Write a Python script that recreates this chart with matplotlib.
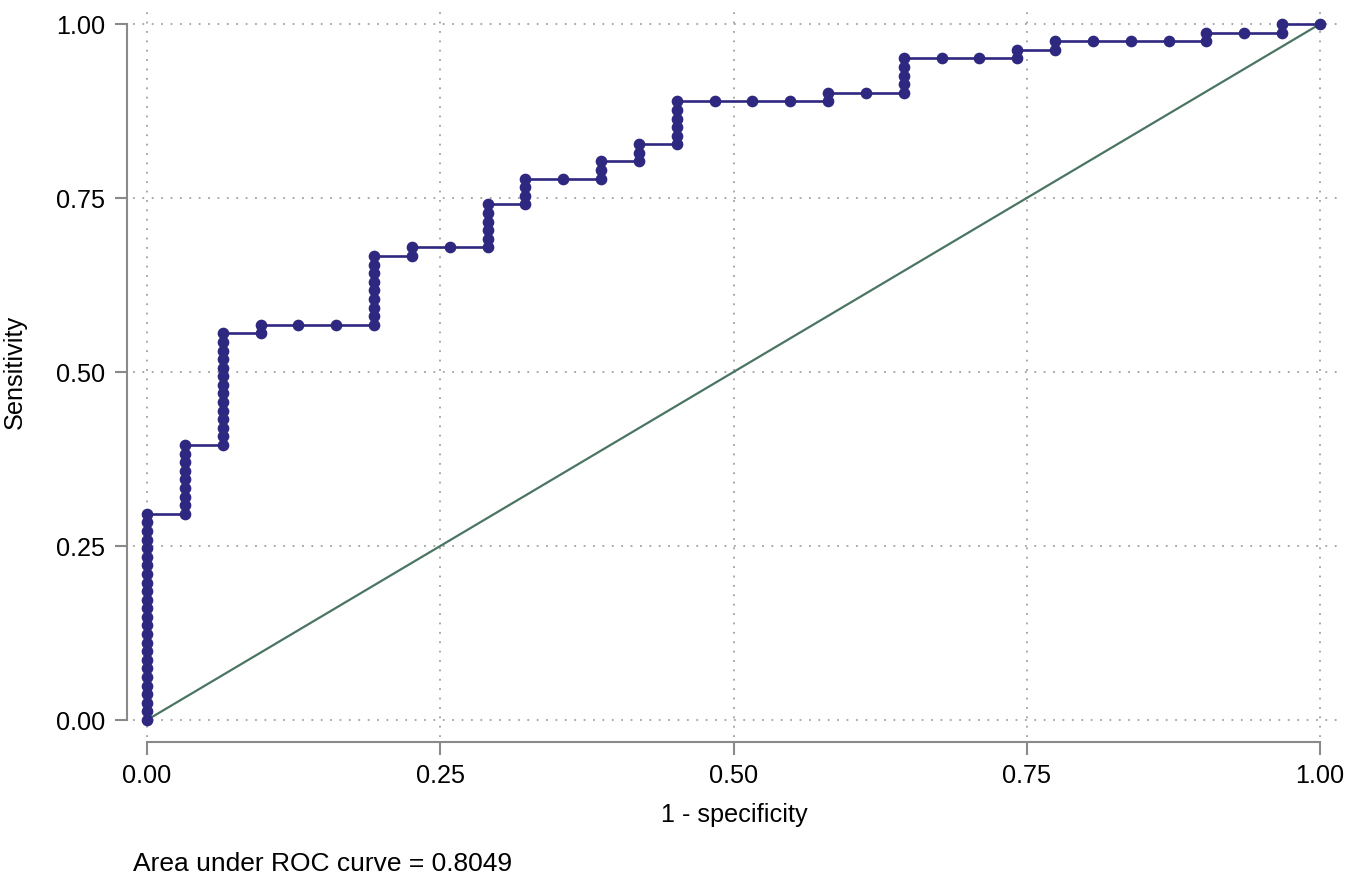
# ROC curve, Stata roctab style
import matplotlib
matplotlib.use("Agg")
import matplotlib.pyplot as plt

plt.rcParams['font.family'] = ['Liberation Sans', 'DejaVu Sans']

# counts of false positives (of 31 negatives) and true positives (of 81 positives) at each cut
n_neg = 31
n_pos = 81
fp_n = [0]*25 + [1]*9 + [2]*14 + [3, 3, 4, 5] + [6]*9 + [7, 7, 8] + [9]*6 + [10]*4 + [11] + [12]*3 + [13]*3 + [14]*6 \
    + [15, 16, 17, 18, 18, 19] + [20]*5 + [21, 22, 23, 23, 24, 24, 25, 26, 27, 28, 28, 29, 30, 30, 31]
tp_n = [0, 1, 2, 3, 4, 5, 6, 7, 8, 9, 10, 11, 12, 13, 14, 15, 16, 17, 18, 19, 20, 21, 22, 23, 24,
        24, 25, 26, 27, 28, 29, 30, 31, 32,
        32, 33, 34, 35, 36, 37, 38, 39, 40, 41, 42, 43, 44, 45,
        45, 46, 46, 46,
        46, 47, 48, 49, 50, 51, 52, 53, 54,
        54, 55, 55,
        55, 56, 57, 58, 59, 60,
        60, 61, 62, 63,
        63,
        63, 64, 65,
        65, 66, 67,
        67, 68, 69, 70, 71, 72,
        72, 72, 72, 72, 73, 73,
        73, 74, 75, 76, 77,
        77, 77, 77, 78, 78, 79, 79, 79, 79, 79, 80, 80, 80, 81, 81]
auc_text = "Area under ROC curve = 0.8049"

one_minus_spec = [v / n_neg for v in fp_n]
sens = [v / n_pos for v in tp_n]

W, H = 1351, 883
fig = plt.figure(figsize=(W / 100, H / 100), dpi=100)
ax = fig.add_axes([147 / W, 1 - 720 / H, 1173 / W, 696 / H])

grey = '#8a8a8a'
ticks = [0, 0.25, 0.5, 0.75, 1.0]
# dotted grid, running a little past the plot region like Stata's
for t in ticks:
    ax.plot([-0.012, 1.02], [t, t], color='#a0a0a0', lw=1.3, ls=(0, (1, 4.2)),
            zorder=0, clip_on=False)
    ax.plot([t, t], [-0.025, 1.027], color='#a0a0a0', lw=1.3, ls=(0, (1, 4.2)),
            zorder=0, clip_on=False)

ax.plot([0, 1], [0, 1], color='#4b7563', lw=1.6, zorder=2, clip_on=False)
ax.plot(one_minus_spec, sens, color='#2e2880', lw=1.9, marker='o', ms=7.4,
        zorder=3, clip_on=False)

ax.set_xlim(0, 1)
ax.set_ylim(0, 1)
ax.set_xticks(ticks)
ax.set_yticks(ticks)
ax.set_xticklabels(['%.2f' % t for t in ticks])
ax.set_yticklabels(['%.2f' % t for t in ticks])

for s in ['top', 'right']:
    ax.spines[s].set_visible(False)
ax.spines['left'].set_position(('outward', 14.4))
ax.spines['bottom'].set_position(('outward', 15.8))
for s in ['left', 'bottom']:
    ax.spines[s].set_bounds(0, 1)
    ax.spines[s].set_color(grey)
    ax.spines[s].set_linewidth(1.5)
ax.tick_params(axis='both', length=9, width=1.5, color=grey, labelsize=18.2, pad=7, labelcolor='black')

fig.text(15 / W, 1 - 372 / H, 'Sensitivity', rotation=90, ha='center', va='center', fontsize=18.2)
fig.text(734 / W, 1 - 815 / H, '1 - specificity', ha='center', va='center', fontsize=18.2)
fig.text(133 / W, 1 - 864 / H, auc_text, ha='left', va='center', fontsize=19)

fig.savefig('out.png', dpi=100, facecolor='white')
